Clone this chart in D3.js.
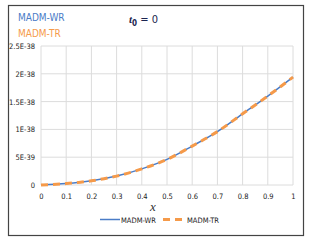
<!DOCTYPE html>
<html>
<head>
<meta charset="utf-8">
<script src="https://cdn.jsdelivr.net/npm/d3@7"></script>
<style>
  body { margin: 0; background: #fff; }
  text { font-family: "DejaVu Sans Condensed", "DejaVu Sans", sans-serif; font-stretch: condensed; }
</style>
</head>
<body>
<div id="chart"></div>
<script>
const xValues = [0, 0.1, 0.2, 0.3, 0.4, 0.5, 0.6, 0.7, 0.8, 0.9, 1];
const madmWR = [0, 0.25e-39, 0.75e-39, 1.6e-39, 2.9e-39, 4.6e-39, 7.0e-39, 9.6e-39, 12.8e-39, 16.0e-39, 19.4e-39];
const madmTR = [0, 0.25e-39, 0.75e-39, 1.6e-39, 2.9e-39, 4.6e-39, 7.0e-39, 9.6e-39, 12.8e-39, 16.0e-39, 19.4e-39];
const yTicks = [0, 5e-39, 1e-38, 1.5e-38, 2e-38, 2.5e-38];
const yTickLabels = ["0", "5E-39", "1E-38", "1.5E-38", "2E-38", "2.5E-38"];
const seriesNames = ["MADM-WR", "MADM-TR"];

const width = 310, height = 242;
const margin = { top: 46, right: 17, bottom: 57, left: 41 };
const blue = "#4a7cc7", orange = "#f59a4a";
const labelFont = "'DejaVu Sans Condensed', 'DejaVu Sans', sans-serif";

const svg = d3.select("#chart").append("svg")
  .attr("width", width)
  .attr("height", height);

// frame
svg.append("rect")
  .attr("x", 8.5).attr("y", 5.5)
  .attr("width", 295).attr("height", 230)
  .attr("fill", "#fff")
  .attr("stroke", "#444")
  .attr("stroke-width", 1.2);

const x = d3.scaleLinear()
  .domain([0, 1])
  .range([margin.left, width - margin.right]);
const y = d3.scaleLinear()
  .domain([0, 2.5e-38])
  .range([height - margin.bottom, margin.top]);

// grid
svg.append("g")
  .selectAll("line")
  .data(xValues)
  .join("line")
    .attr("x1", d => x(d)).attr("x2", d => x(d))
    .attr("y1", y(0)).attr("y2", y(2.5e-38))
    .attr("stroke", "#dcdcdc");
svg.append("g")
  .selectAll("line")
  .data(yTicks)
  .join("line")
    .attr("x1", x(0)).attr("x2", x(1))
    .attr("y1", d => y(d)).attr("y2", d => y(d))
    .attr("stroke", "#dcdcdc");

// axes (labels only)
svg.append("g")
  .attr("transform", `translate(0, ${y(0)})`)
  .call(d3.axisBottom(x).tickValues(xValues).tickFormat(d3.format("")).tickSize(0).tickPadding(9))
  .call(g => g.select(".domain").remove())
  .call(g => g.selectAll("text").attr("font-size", 7.5).attr("fill", "#222")
    .style("font-family", labelFont).style("font-stretch", "condensed"));

svg.append("g")
  .attr("transform", `translate(${x(0)}, 0)`)
  .call(d3.axisLeft(y).tickValues(yTicks).tickFormat((d, i) => yTickLabels[i]).tickSize(0).tickPadding(6))
  .call(g => g.select(".domain").remove())
  .call(g => g.selectAll("text").attr("font-size", 7.5).attr("fill", "#222")
    .style("font-family", labelFont).style("font-stretch", "condensed"));

// lines
const line = d3.line()
  .curve(d3.curveMonotoneX)
  .x((d, i) => x(xValues[i]))
  .y(d => y(d));

svg.append("path")
  .datum(madmWR)
  .attr("fill", "none")
  .attr("stroke", blue)
  .attr("stroke-width", 1.5)
  .attr("d", line);

svg.append("path")
  .datum(madmTR)
  .attr("fill", "none")
  .attr("stroke", orange)
  .attr("stroke-width", 3)
  .attr("stroke-dasharray", "7 5")
  .attr("d", line);

// x axis title
svg.append("text")
  .attr("x", 153).attr("y", 211)
  .attr("text-anchor", "middle")
  .attr("font-size", 13)
  .attr("font-style", "italic")
  .style("font-family", "'Liberation Serif', serif")
  .attr("fill", "#333")
  .text("x");

// top-left labels
svg.append("text")
  .attr("x", 18).attr("y", 21)
  .attr("font-size", 10)
  .attr("fill", blue)
  .text(seriesNames[0]);
svg.append("text")
  .attr("x", 18).attr("y", 37)
  .attr("font-size", 10)
  .attr("fill", orange)
  .text(seriesNames[1]);

// t0 = 0
const t0 = svg.append("text")
  .attr("x", 129).attr("y", 23)
  .attr("font-size", 11)
  .attr("fill", "#1a2550");
t0.append("tspan").attr("font-style", "italic").attr("font-weight", "bold")
  .style("font-family", "'Liberation Serif', serif").text("t");
t0.append("tspan").attr("font-size", 8).attr("dy", 3).attr("font-weight", "bold").text("0");
t0.append("tspan").attr("dy", -3).text(" = 0");

// bottom legend
const legend = svg.append("g").attr("transform", "translate(0, 219.5)");
legend.append("line")
  .attr("x1", 100).attr("x2", 120)
  .attr("stroke", blue).attr("stroke-width", 1.5);
legend.append("text")
  .attr("x", 121).attr("y", 3)
  .attr("font-size", 7.5).attr("fill", "#222")
  .text(seriesNames[0]);
legend.append("line")
  .attr("x1", 163).attr("x2", 186)
  .attr("stroke", orange).attr("stroke-width", 3)
  .attr("stroke-dasharray", "7 5");
legend.append("text")
  .attr("x", 187).attr("y", 3)
  .attr("font-size", 7.5).attr("fill", "#222")
  .text(seriesNames[1]);
</script>
</body>
</html>
